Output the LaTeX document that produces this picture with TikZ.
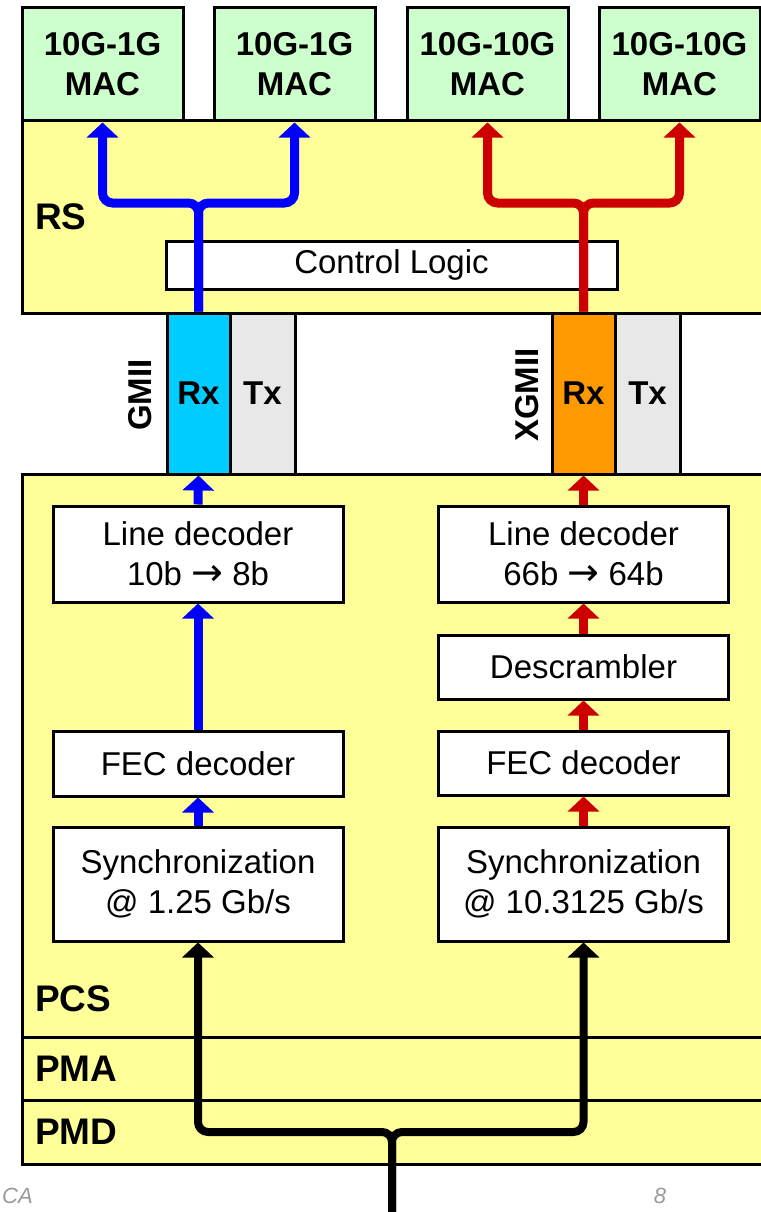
\documentclass[tikz,border=0pt]{standalone}
\usepackage{fontspec}
\setmainfont{Liberation Sans}
\newfontfamily\arrowfont{DejaVu Sans}
\usepackage{xcolor}
\usetikzlibrary{arrows.meta}

\definecolor{macgreen}{HTML}{CCFFCC}
\definecolor{layeryellow}{HTML}{FFFF99}
\definecolor{rxcyan}{HTML}{00CCFF}
\definecolor{rxorange}{HTML}{FF9900}
\definecolor{txgray}{HTML}{E8E8E8}
\definecolor{flowblue}{HTML}{0000FF}
\definecolor{flowred}{HTML}{CC0000}
\definecolor{footgray}{HTML}{9A9A9A}

\newcommand{\toarrow}{{\arrowfont\fontsize{38}{40}\selectfont\symbol{"2192}}}

\begin{document}
\begin{tikzpicture}[x=1pt, y=-1pt,
    txt/.style={font=\fontsize{33}{40}\selectfont, align=center},
    bold/.style={font=\fontsize{33}{40}\selectfont\bfseries, align=center},
    box/.style={txt, draw, line width=3pt, fill=white, minimum width=290pt},
    mac/.style={bold, draw, line width=3pt, fill=macgreen, minimum width=161pt, minimum height=113pt},
    layer/.style={draw, line width=3pt, fill=layeryellow, minimum width=758pt},
    port/.style={bold, draw, line width=3pt, minimum height=161pt, inner sep=0pt},
    tag/.style={font=\fontsize{37}{40}\selectfont\bfseries, inner sep=0pt, anchor=west},
    footer/.style={font=\fontsize{22}{26}\selectfont\itshape, text=footgray, inner sep=0pt},
    flow/.style={line width=9pt, rounded corners=10pt, -{Triangle[width=31pt,length=15pt]}}
]
    \useasboundingbox (0,0) rectangle (760,1212);

    % MAC blocks
    \foreach \i/\x/\t in {1/102.5/10G-1G, 2/294.5/10G-1G, 3/487.5/10G-10G, 4/679.5/10G-10G}{
        \node[mac] (mac\i) at (\x,64.5) {\t\\MAC};
    }

    % Reconciliation sublayer
    \node[layer, minimum height=192pt] (rs) at (401,217) {};
    \node[tag] (rslbl) at (35,217) {RS};
    \node[box, minimum width=451pt, minimum height=48pt] (ctrl) at (391.5,265) {Control Logic};

    % Media independent interfaces
    \node[port, fill=rxcyan, minimum width=63pt] (rxG) at (198.5,393.5) {Rx};
    \node[port, fill=txgray, minimum width=65pt] (txG) at (262.5,393.5) {Tx};
    \node[port, fill=rxorange, minimum width=63pt] (rxX) at (583.5,393.5) {Rx};
    \node[port, fill=txgray, minimum width=65pt] (txX) at (647.5,393.5) {Tx};
    \node[bold, rotate=90, inner sep=0pt] (gmii) at (140,395) {GMII};
    \node[bold, rotate=90, inner sep=0pt] (xgmii) at (527,395) {XGMII};

    % Physical sublayers
    \node[layer, minimum height=563pt] (pcs) at (401,755.5) {};
    \node[layer, minimum height=63pt] (pma) at (401,1068.5) {};
    \node[layer, minimum height=64pt] (pmd) at (401,1132) {};
    \node[tag] (pcslbl) at (35,999) {PCS};
    \node[tag] (pmalbl) at (35,1068.5) {PMA};
    \node[tag] (pmdlbl) at (35,1132) {PMD};

    % 1G receive chain
    \node[box, minimum height=96pt] (lineL) at (198,554) {Line decoder\\10b \toarrow{} 8b};
    \node[box, minimum height=65pt] (fecL) at (198,763.5) {FEC decoder};
    \node[box, minimum height=114pt] (syncL) at (198,884) {Synchronization\\@ 1.25 Gb/s};

    % 10G receive chain
    \node[box, minimum height=96pt] (lineR) at (583.5,554) {Line decoder\\66b \toarrow{} 64b};
    \node[box, minimum height=64pt] (descR) at (583.5,667) {Descrambler};
    \node[box, minimum height=64pt] (fecR) at (583.5,763) {FEC decoder};
    \node[box, minimum height=114pt] (syncR) at (583.5,884) {Synchronization\\@ 10.3125 Gb/s};

    % Data flow
    \coordinate (bhub) at (198.5,203);
    \coordinate (rhub) at (583.5,203);
    \draw[flow, flowblue] (rxG.north) -- (bhub) -| (mac1.south);
    \draw[flow, flowblue] (rxG.north) -- (bhub) -| (mac2.south);
    \draw[flow, flowred] (rxX.north) -- (rhub) -| (mac3.south);
    \draw[flow, flowred] (rxX.north) -- (rhub) -| (mac4.south);

    \draw[flow, flowblue] (lineL.north) -- (rxG.south);
    \draw[flow, flowblue] (fecL.north) -- (lineL.south);
    \draw[flow, flowblue] (syncL.north) -- (fecL.south);

    \draw[flow, flowred] (lineR.north) -- (rxX.south);
    \draw[flow, flowred] (descR.north) -- (lineR.south);
    \draw[flow, flowred] (fecR.north) -- (descR.south);
    \draw[flow, flowred] (syncR.north) -- (fecR.south);

    \coordinate (fiber) at (392,1240);
    \coordinate (khub) at (392,1132);
    \draw[flow, line width=8pt] (fiber) -- (khub) -| (syncL.south);
    \draw[flow, line width=8pt] (fiber) -- (khub) -| (syncR.south);

    % Slide footer remnants
    \node[footer, anchor=north west] (footl) at (2,1188) {CA};
    \node[footer, anchor=north] (footr) at (660,1188) {8};
\end{tikzpicture}
\end{document}
